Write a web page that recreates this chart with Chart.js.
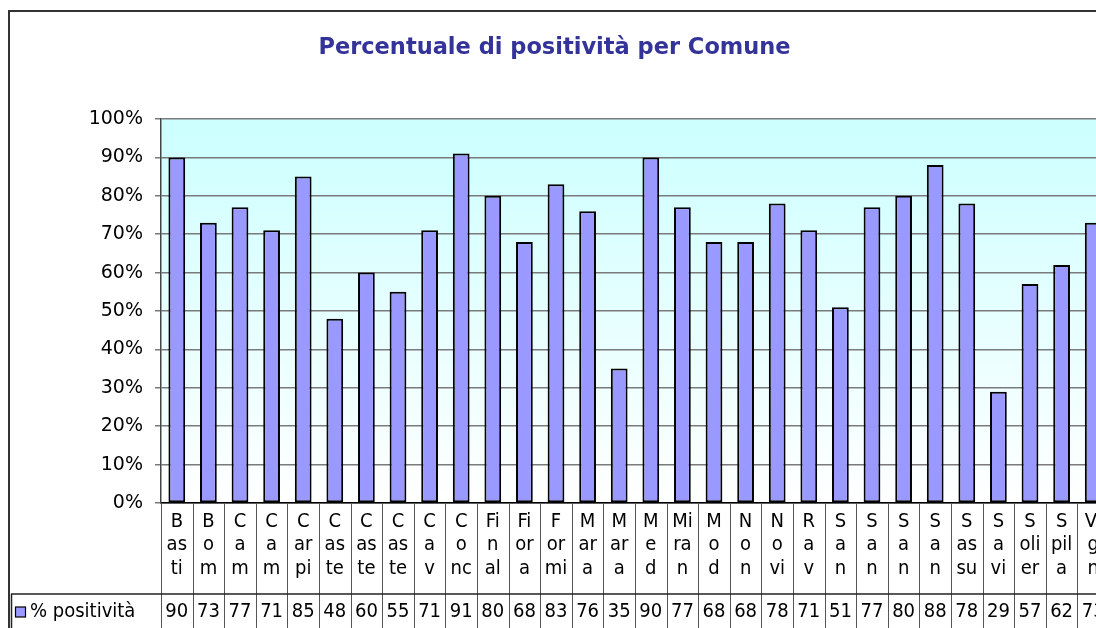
<!DOCTYPE html>
<html>
<head>
<meta charset="utf-8">
<script src="https://cdn.jsdelivr.net/npm/chart.js@4/dist/chart.umd.min.js"></script>
<style>
  html, body { margin: 0; padding: 0; background: #fff; overflow: hidden; }
  #wrap { width: 1112px; height: 628px; }
</style>
</head>
<body>
<div id="wrap"><canvas id="chart"></canvas></div>
<script>
const categories = [
  ['B', 'as', 'ti'], ['B', 'o', 'm'], ['C', 'a', 'm'], ['C', 'a', 'm'], ['C', 'ar', 'pi'],
  ['C', 'as', 'te'], ['C', 'as', 'te'], ['C', 'as', 'te'], ['C', 'a', 'v'], ['C', 'o', 'nc'],
  ['Fi', 'n', 'al'], ['Fi', 'or', 'a'], ['F', 'or', 'mi'], ['M', 'ar', 'a'], ['M', 'ar', 'a'],
  ['M', 'e', 'd'], ['Mi', 'ra', 'n'], ['M', 'o', 'd'], ['N', 'o', 'n'], ['N', 'o', 'vi'],
  ['R', 'a', 'v'], ['S', 'a', 'n'], ['S', 'a', 'n'], ['S', 'a', 'n'], ['S', 'a', 'n'],
  ['S', 'as', 'su'], ['S', 'a', 'vi'], ['S', 'oli', 'er'], ['S', 'pil', 'a'], ['Vi', 'g', 'n']
];
const positivita = [90, 73, 77, 71, 85, 48, 60, 55, 71, 91, 80, 68, 83, 76, 35,
                    90, 77, 68, 68, 78, 71, 51, 77, 80, 88, 78, 29, 57, 62, 73];
const seriesName = '% positività';
const yTicks = [0, 10, 20, 30, 40, 50, 60, 70, 80, 90, 100];

const TABLE_FONT = "'DejaVu Sans Condensed', 'DejaVu Sans', sans-serif";
const AXIS_FONT = "'DejaVu Sans', sans-serif";

const frame = {
  id: 'frame',
  beforeDraw(chart) {
    const { ctx, chartArea: a } = chart;
    ctx.save();
    ctx.fillStyle = '#fff';
    ctx.fillRect(0, 0, chart.width, chart.height);
    const g = ctx.createLinearGradient(0, a.top, 0, a.bottom);
    g.addColorStop(0, '#ccffff');
    g.addColorStop(1, '#ffffff');
    ctx.fillStyle = g;
    ctx.fillRect(a.left, a.top, a.right - a.left, a.bottom - a.top);
    ctx.strokeStyle = '#333';
    ctx.lineWidth = 2;
    ctx.strokeRect(9, 11, chart.width + 50, chart.height + 50);
    ctx.restore();
  },
  afterDraw(chart) {
    const { ctx, chartArea: a } = chart;
    const x = chart.scales.x;
    const half = (x.getPixelForValue(1) - x.getPixelForValue(0)) / 2;
    const rowY = 594;
    const textY = 612;
    ctx.save();
    // column separators
    ctx.strokeStyle = '#555';
    ctx.lineWidth = 1;
    for (let i = 0; i <= categories.length; i++) {
      const bx = Math.round(x.getPixelForValue(i) - half) + 0.5;
      ctx.beginPath();
      ctx.moveTo(bx, a.bottom);
      ctx.lineTo(bx, chart.height);
      ctx.stroke();
    }
    // row line + legend cell
    ctx.strokeStyle = '#222';
    ctx.lineWidth = 1.5;
    ctx.beginPath();
    ctx.moveTo(11, rowY);
    ctx.lineTo(chart.width, rowY);
    ctx.moveTo(11.5, rowY);
    ctx.lineTo(11.5, chart.height);
    ctx.stroke();
    // legend key
    ctx.fillStyle = '#9999ff';
    ctx.fillRect(15.5, textY - 5, 10, 10);
    ctx.strokeStyle = '#000';
    ctx.lineWidth = 1.2;
    ctx.strokeRect(15.5, textY - 5, 10, 10);
    ctx.fillStyle = '#000';
    ctx.font = '20px ' + TABLE_FONT;
    ctx.textBaseline = 'middle';
    ctx.textAlign = 'left';
    ctx.fillText(seriesName, 30, textY);
    ctx.textAlign = 'center';
    positivita.forEach((v, i) => {
      ctx.fillText(String(Math.round(v)), x.getPixelForValue(i), textY);
    });
    ctx.restore();
  }
};

new Chart(document.getElementById('chart'), {
  type: 'bar',
  data: {
    labels: categories,
    datasets: [{
      label: seriesName,
      data: positivita,
      backgroundColor: '#9999ff',
      borderColor: '#000',
      borderWidth: 2,
      borderSkipped: false,
      categoryPercentage: 1,
      barPercentage: 0.53
    }]
  },
  options: {
    responsive: true,
    maintainAspectRatio: false,
    animation: false,
    layout: { padding: { left: 0, right: 3, top: 0, bottom: 0 } },
    scales: {
      x: {
        afterFit(s) { s.height = 125; },
        grid: { display: false, drawTicks: false },
        border: { display: true, color: '#000', width: 1.5 },
        ticks: {
          autoSkip: false,
          maxRotation: 0,
          padding: 7,
          color: '#000',
          font: { family: TABLE_FONT, size: 20, lineHeight: 1.175 }
        }
      },
      y: {
        min: 0,
        max: 100,
        afterFit(s) { s.width = 161; },
        afterBuildTicks(s) { s.ticks = yTicks.map(v => ({ value: v })); },
        grid: { color: '#7a7a7a', lineWidth: 1.5, tickLength: 6 },
        border: { color: '#444', width: 1.5 },
        ticks: {
          padding: 12,
          color: '#000',
          font: { family: AXIS_FONT, size: 19 },
          callback: v => v + '%'
        }
      }
    },
    plugins: {
      legend: { display: false },
      tooltip: { enabled: false },
      title: {
        display: true,
        text: 'Percentuale di positività per Comune',
        color: '#333399',
        font: { family: "'DejaVu Sans', sans-serif", size: 22.5, weight: 'bold' },
        padding: { top: 35, bottom: 57 }
      }
    }
  },
  plugins: [frame]
});
</script>
</body>
</html>
